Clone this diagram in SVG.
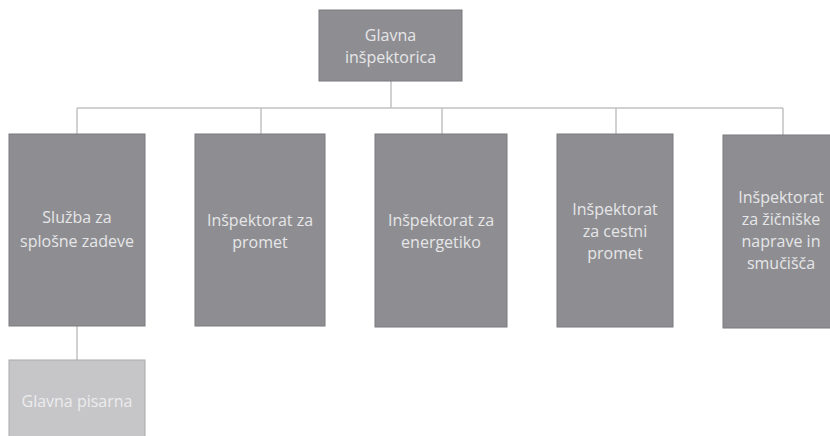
<svg xmlns="http://www.w3.org/2000/svg" width="830" height="436" viewBox="0 0 830 436">
<style>
.box{fill:#8e8e92;stroke:#7b7b7e;stroke-width:1}
.light{fill:#c6c6c8;stroke:#a9a9ab;stroke-width:1}
.t{font-family:"Open Sans","Liberation Sans",sans-serif;font-size:16px;fill:#e6e6e8;text-anchor:middle}
.tl{fill:#ececee}
.c{stroke:#c2c2c2;stroke-width:1.5;fill:none}
</style>
<rect width="830" height="436" fill="#ffffff"/>
<g id="connectors">
<path class="c" d="M391 81V108M77 108H783M77 108V134M261 108V134M442 108V134M616 108V134M783 108V135M77 326V360"/>
</g>
<g id="glavna-inspektorica">
<rect class="box" x="319" y="10" width="143" height="71"/>
<text class="t" x="390.5" y="41">Glavna</text>
<text class="t" x="390.5" y="63">inšpektorica</text>
</g>
<g id="sluzba">
<rect class="box" x="9" y="134" width="136" height="192"/>
<text class="t" x="77" y="223">Služba za</text>
<text class="t" x="77" y="247">splošne zadeve</text>
</g>
<g id="promet">
<rect class="box" x="195" y="134" width="130" height="192"/>
<text class="t" x="260" y="226">Inšpektorat za</text>
<text class="t" x="260" y="248">promet</text>
</g>
<g id="energetika">
<rect class="box" x="375" y="134" width="132" height="193"/>
<text class="t" x="441" y="226">Inšpektorat za</text>
<text class="t" x="441" y="248">energetiko</text>
</g>
<g id="cestni">
<rect class="box" x="557" y="134" width="116" height="193"/>
<text class="t" x="615" y="215">Inšpektorat</text>
<text class="t" x="615" y="237">za cestni</text>
<text class="t" x="615" y="259">promet</text>
</g>
<g id="zicnice">
<rect class="box" x="723" y="135" width="120" height="193"/>
<text class="t" x="781" y="203">Inšpektorat</text>
<text class="t" x="781" y="225">za žičniške</text>
<text class="t" x="781" y="247">naprave in</text>
<text class="t" x="781" y="269">smučišča</text>
</g>
<g id="pisarna">
<rect class="light" x="9" y="360" width="136" height="90"/>
<text class="t tl" x="77" y="407">Glavna pisarna</text>
</g>
</svg>
